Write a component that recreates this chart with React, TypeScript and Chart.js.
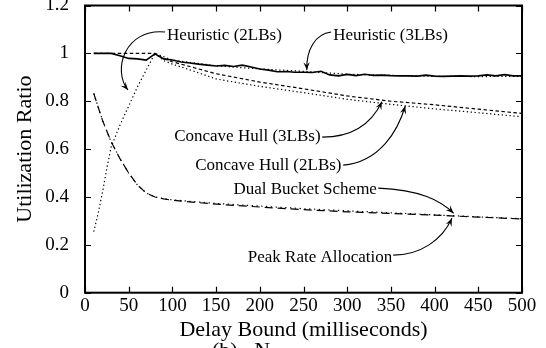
import React, { useEffect, useRef } from "react";
import { Chart, registerables } from "chart.js";

Chart.register(...registerables);

const FONT = "'Liberation Serif', 'Times New Roman', Times, serif";

// ---- tick labels ----
const xTickValues = [0, 50, 100, 150, 200, 250, 300, 350, 400, 450, 500];
const yTickLabels = ["0", "0.2", "0.4", "0.6", "0.8", "1", "1.2"];

// ---- Heuristic (3LBs) ----
const heur3Delays = [10, 20, 30, 40, 50, 60, 70, 80, 90, 100, 110, 120, 130, 140, 150, 160, 170, 180, 190, 200, 210, 220, 230, 240, 250, 260, 270, 280, 290, 300, 310, 320, 330, 340, 350, 360, 370, 380, 390, 400, 410, 420, 430, 440, 450, 460, 470, 480, 490, 500];
const heuristic3 = [1.0, 1.0, 1.0, 0.99, 0.979, 0.977, 0.972, 0.998, 0.977, 0.972, 0.964, 0.96, 0.955, 0.951, 0.947, 0.95, 0.945, 0.951, 0.943, 0.935, 0.93, 0.923, 0.924, 0.921, 0.921, 0.92, 0.925, 0.91, 0.906, 0.912, 0.907, 0.913, 0.908, 0.909, 0.907, 0.906, 0.906, 0.905, 0.909, 0.905, 0.904, 0.905, 0.906, 0.905, 0.906, 0.91, 0.906, 0.911, 0.906, 0.906];

// ---- Heuristic (2LBs) ----
const heur2Delays = [10, 15, 20, 25, 30, 40, 50, 60, 70, 80, 100, 150, 200, 250, 300, 350, 400, 450, 500];
const heuristic2 = [0.255, 0.33, 0.42, 0.52, 0.61, 0.7, 0.78, 0.86, 0.93, 1.0, 0.972, 0.948, 0.935, 0.925, 0.913, 0.908, 0.904, 0.903, 0.904];

// ---- Concave Hull (3LBs) ----
const concave3Delays = [10, 80, 90, 100, 125, 150, 200, 250, 300, 350, 400, 450, 500];
const concave3 = [1.0, 1.0, 0.978, 0.965, 0.94, 0.915, 0.88, 0.852, 0.822, 0.8, 0.785, 0.767, 0.749];

// ---- Concave Hull (2LBs) ----
const concave2Delays = [80, 90, 100, 125, 150, 200, 250, 300, 350, 400, 450, 500];
const concave2 = [1.0, 0.97, 0.955, 0.925, 0.893, 0.862, 0.836, 0.808, 0.787, 0.768, 0.752, 0.735];

// ---- Dual Bucket Scheme / Peak Rate Allocation ----
const bucketDelays = [10, 20, 30, 40, 50, 60, 70, 80, 90, 100, 150, 200, 250, 300, 350, 400, 450, 500];
const dualBucket = [0.833, 0.72, 0.63, 0.56, 0.5, 0.45, 0.417, 0.4, 0.392, 0.386, 0.37, 0.358, 0.347, 0.338, 0.331, 0.324, 0.316, 0.308];
const peakRate = [0.833, 0.72, 0.63, 0.56, 0.5, 0.45, 0.417, 0.4, 0.393, 0.388, 0.373, 0.362, 0.351, 0.342, 0.334, 0.325, 0.317, 0.309];

// ---- annotation labels (data coordinates): text anchor, then arrow start, control1, control2, tip ----
const annotationTexts = ["Heuristic (2LBs)", "Heuristic (3LBs)", "Concave Hull (3LBs)", "Concave Hull (2LBs)", "Dual Bucket Scheme", "Peak Rate Allocation"];
const annotationAnchors = [[93.9, 1.076], [284, 1.076], [269.5, 0.652], [293.5, 0.53], [334, 0.429], [351.5, 0.148]];
const annotationAlign = ["left", "left", "right", "right", "right", "right"];
const annotationPaths = [
  [[91.6, 1.089], [45.8, 1.106], [30.9, 0.93], [49.2, 0.847]],
  [[281.7, 1.089], [263.3, 1.081], [253.0, 1.014], [253.8, 0.93]],
  [[271.4, 0.65], [308.9, 0.65], [328.6, 0.713], [339.7, 0.798]],
  [[295.4, 0.533], [337.8, 0.546], [358.4, 0.68], [366.4, 0.78]],
  [[335.5, 0.437], [383.6, 0.429], [406.5, 0.387], [421.7, 0.332]],
  [[352.6, 0.157], [383.6, 0.157], [408.7, 0.22], [419.8, 0.311]],
];

const zip = (xs: number[], ys: number[]) => xs.map((x, i) => ({ x, y: ys[i] }));

const framePlugin = {
  id: "frameTicks",
  afterDatasetsDraw(chart: any) {
    const { ctx, chartArea, scales } = chart;
    const { left, right, top, bottom } = chartArea;
    const xs = scales.x;
    const ys = scales.y;
    ctx.save();
    ctx.strokeStyle = "#000";
    ctx.lineWidth = 1.2;
    ctx.beginPath();
    xs.ticks.forEach((t: any) => {
      const px = Math.round(xs.getPixelForValue(t.value)) + 0.5;
      ctx.moveTo(px, bottom);
      ctx.lineTo(px, bottom - 6);
      ctx.moveTo(px, top);
      ctx.lineTo(px, top + 6);
    });
    ys.ticks.forEach((t: any) => {
      const py = Math.round(ys.getPixelForValue(t.value)) + 0.5;
      ctx.moveTo(left, py);
      ctx.lineTo(left + 6, py);
      ctx.moveTo(right, py);
      ctx.lineTo(right - 6, py);
    });
    ctx.stroke();
    ctx.lineWidth = 2;
    ctx.strokeRect(left, top, right - left, bottom - top);
    ctx.restore();
  },
};

const annotationPlugin = {
  id: "arrowLabels",
  afterDraw(chart: any) {
    const { ctx, scales } = chart;
    const xs = scales.x;
    const ys = scales.y;
    const P = (p: number[]) => [xs.getPixelForValue(p[0]), ys.getPixelForValue(p[1])];
    ctx.save();
    ctx.fillStyle = "#000";
    ctx.strokeStyle = "#000";
    ctx.font = `17px ${FONT}`;
    ctx.textBaseline = "middle";
    annotationTexts.forEach((text, i) => {
      const [ax, ay] = P(annotationAnchors[i]);
      ctx.textAlign = annotationAlign[i] as CanvasTextAlign;
      ctx.fillText(text, ax, ay);
      const pts = annotationPaths[i].map(P);
      ctx.lineWidth = 1.1;
      ctx.beginPath();
      ctx.moveTo(pts[0][0], pts[0][1]);
      ctx.bezierCurveTo(pts[1][0], pts[1][1], pts[2][0], pts[2][1], pts[3][0], pts[3][1]);
      ctx.stroke();
      const ang = Math.atan2(pts[3][1] - pts[2][1], pts[3][0] - pts[2][0]);
      const L = 8, W = 3.2;
      const tx = pts[3][0], ty = pts[3][1];
      const bx = tx - L * Math.cos(ang), by = ty - L * Math.sin(ang);
      ctx.beginPath();
      ctx.moveTo(tx, ty);
      ctx.lineTo(bx + W * Math.sin(ang), by - W * Math.cos(ang));
      ctx.lineTo(tx - 0.6 * L * Math.cos(ang), ty - 0.6 * L * Math.sin(ang));
      ctx.lineTo(bx - W * Math.sin(ang), by + W * Math.cos(ang));
      ctx.closePath();
      ctx.fill();
    });
    // partially visible figure caption at the bottom edge
    ctx.font = `22px ${FONT}`;
    ctx.textAlign = "left";
    ctx.textBaseline = "alphabetic";
    ctx.fillText("(b)   N", 212, 357);
    ctx.restore();
  },
};

export default function App() {
  const ref = useRef<HTMLCanvasElement | null>(null);
  useEffect(() => {
    if (!ref.current) return;
    const line = (label: string, data: any[], dash: number[], width: number) => ({
      label,
      data,
      borderColor: "#000",
      backgroundColor: "#000",
      borderWidth: width,
      borderDash: dash,
      pointRadius: 0,
      fill: false,
      tension: 0,
    });
    const chart = new Chart(ref.current, {
      type: "line",
      data: {
        datasets: [
          line("Heuristic (3LBs)", zip(heur3Delays, heuristic3), [], 1.6),
          line("Heuristic (2LBs)", zip(heur2Delays, heuristic2), [1.3, 2.6], 1.2),
          line("Concave Hull (3LBs)", zip(concave3Delays, concave3), [3.5, 2.5], 1.2),
          line("Concave Hull (2LBs)", zip(concave2Delays, concave2), [1.3, 2.6], 1.2),
          line("Dual Bucket Scheme", zip(bucketDelays, dualBucket), [8, 5], 1.2),
          line("Peak Rate Allocation", zip(bucketDelays, peakRate), [1.3, 3.5], 1.2),
        ],
      },
      options: {
        responsive: false,
        animation: false,
        events: [],
        layout: { padding: { top: 5.5, right: 24, left: 0, bottom: 0 } },
        plugins: { legend: { display: false }, tooltip: { enabled: false } },
        scales: {
          x: {
            type: "linear",
            min: 0,
            max: 500,
            grid: { display: false },
            border: { display: false },
            afterFit: (s: any) => {
              s.height = 55.3;
              s.paddingLeft = 0;
              s.paddingRight = 0;
            },
            afterBuildTicks: (s: any) => {
              s.ticks = xTickValues.map((v) => ({ value: v }));
            },
            ticks: {
              autoSkip: false,
              maxRotation: 0,
              padding: -6,
              color: "#000",
              font: { family: FONT, size: 19 },
              callback: (v: any) => String(v),
            },
            title: {
              display: true,
              text: "Delay Bound (milliseconds)",
              color: "#000",
              font: { family: FONT, size: 22 },
              padding: { top: 0, bottom: 5 },
            },
          },
          y: {
            type: "linear",
            min: 0,
            max: 1.2,
            grid: { display: false },
            border: { display: false },
            afterFit: (s: any) => {
              s.width = 85;
              s.paddingTop = 0;
              s.paddingBottom = 0;
            },
            ticks: {
              stepSize: 0.2,
              padding: 8,
              color: "#000",
              font: { family: FONT, size: 19 },
              callback: (_v: any, i: number) => yTickLabels[i],
            },
            title: {
              display: true,
              text: "Utilization Ratio",
              color: "#000",
              font: { family: FONT, size: 22 },
              padding: { top: 12, bottom: 0 },
            },
          },
        },
      },
      plugins: [framePlugin, annotationPlugin],
    } as any);
    return () => chart.destroy();
  }, []);
  return (
    <div style={{ position: "fixed", left: 0, top: 0, width: 546, height: 348, background: "#fff" }}>
      <canvas ref={ref} width={546} height={348} style={{ display: "block", width: 546, height: 348 }} />
    </div>
  );
}
